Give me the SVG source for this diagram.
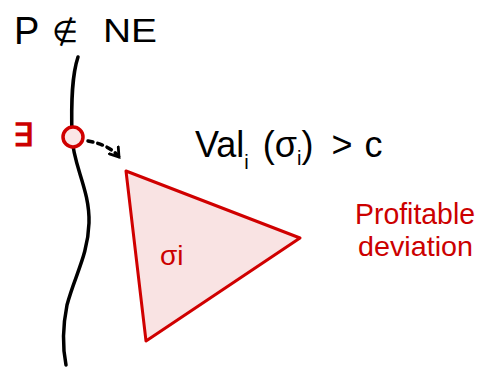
<svg xmlns="http://www.w3.org/2000/svg" width="482" height="371" viewBox="0 0 482 371">
<defs>
<style>
.ink{fill:none;stroke:#000;stroke-width:3.5;stroke-linecap:round;stroke-linejoin:round}
.red{fill:#cc0000;font-family:"Liberation Sans",sans-serif}
.blk{fill:#000;font-family:"Liberation Sans",sans-serif}
</style>
<marker id="ah" viewBox="0 0 10 10" refX="7" refY="5" markerWidth="4" markerHeight="4" orient="auto">
<path d="M1,1 L7,5 L1,9" fill="none" stroke="#000" stroke-width="2" stroke-linecap="round"/>
</marker>
</defs>
<rect width="482" height="371" fill="#fff"/>
<g id="title">
<text class="blk" x="14" y="44" font-size="38">P</text>
<text class="blk" x="52" y="42" font-size="30">∉</text>
<text class="blk" x="103" y="42" font-size="34" textLength="54" lengthAdjust="spacingAndGlyphs">NE</text>
</g>
<g id="connectors">
<path class="ink" d="M78,57 C72,75 71,100 72,137 C73,165 90,190 89,223 C88,255 75,275 67,305 C62,330 63,350 66,365"/>
<path d="M88,141 C100,143 112,148 119,157" fill="none" stroke="#000" stroke-width="3.5" stroke-dasharray="5,5" stroke-linecap="round" marker-end="url(#ah)"/>
</g>
<g id="exists">
<text class="red" x="13" y="146" font-size="32" font-weight="bold">∃</text>
<circle cx="73" cy="137" r="10" fill="#fbe6e6" stroke="#d00000" stroke-width="3.5"/>
</g>
<g id="condition">
<text class="blk" x="195" y="157" font-size="36">Val<tspan font-size="20" dy="12">i</tspan><tspan dy="-12" dx="14">(σ</tspan><tspan font-size="20" dy="8">i</tspan><tspan dy="-8">)</tspan><tspan dx="18">&gt;</tspan><tspan dx="12">c</tspan></text>
</g>
<g id="triangle">
<polygon points="126,171 300,238 146,341" fill="#f9e3e3" stroke="#d00000" stroke-width="3" stroke-linejoin="round"/>
<text class="red" x="160" y="265" font-size="28">σi</text>
</g>
<g id="profitable">
<text class="red" x="355" y="224" font-size="30" textLength="120" lengthAdjust="spacingAndGlyphs">Profitable</text>
<text class="red" x="358" y="256" font-size="28" textLength="115" lengthAdjust="spacingAndGlyphs">deviation</text>
</g>
</svg>
